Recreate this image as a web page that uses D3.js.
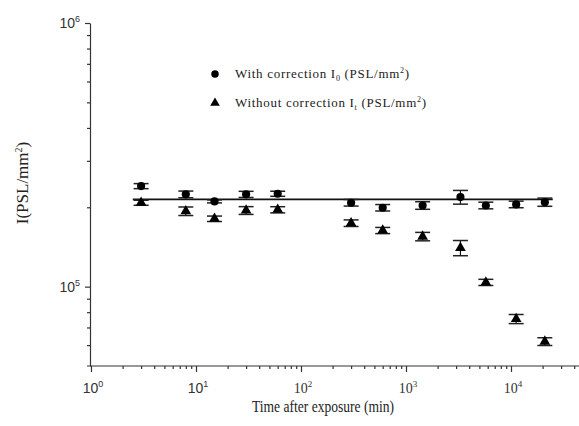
<!DOCTYPE html>
<html>
<head>
<meta charset="utf-8">
<script src="https://cdn.jsdelivr.net/npm/d3@7/dist/d3.min.js"></script>
<style>
  body { margin: 0; background: #fff; }
  svg { display: block; }
</style>
</head>
<body>
<svg id="chart" width="579" height="426"></svg>
<script>
// time after exposure (min)
const times = [3, 8, 15, 30, 60, 300, 600, 1440, 3300, 5760, 11200, 21000];
// with correction I0 (PSL/mm2)
const withCorr = [240600, 223900, 210500, 223900, 225100, 208100, 199200, 203200, 218600, 203200, 205100, 209200];
const withErr = [5300, 6500, 2700, 6000, 5000, 6000, 5600, 6700, 13100, 5900, 5900, 7500];
// without correction It (PSL/mm2)
const withoutCorr = [208100, 193300, 180900, 194500, 195700, 174100, 163300, 154900, 140300, 103800, 75400, 61900];
const withoutErr = [4600, 7200, 4300, 6600, 5300, 5000, 4400, 5700, 9300, 2800, 3000, 2100];
// fitted constant line
const fitValue = 214300;
const fitRange = [2.5, 25000];

const xMajor = [0, 1, 2, 3, 4];
const yMajor = [5, 6];

const svg = d3.select('#chart');

const x = d3.scaleLog().domain([1, 1e5]).range([91, 616]);
const y = d3.scaleLog().domain([5e4, 1e6]).range([366, 23]);

// minor tick values
const xMinor = [];
for (let e = 0; e < 5; e++) for (let m = 2; m <= 9; m++) xMinor.push(m * Math.pow(10, e));
const yMinor = [6e4, 7e4, 8e4, 9e4, 2e5, 3e5, 4e5, 5e5, 6e5, 7e5, 8e5, 9e5];

const axisColor = '#333';

// x axis
const gx = svg.append('g').attr('transform', 'translate(0,366)');
gx.call(d3.axisBottom(x).tickValues(xMajor.map(e => Math.pow(10, e))).tickFormat('').tickSize(6).tickSizeOuter(0));
gx.append('g').call(d3.axisBottom(x).tickValues(xMinor).tickFormat('').tickSize(3).tickSizeOuter(0))
  .select('.domain').remove();
gx.select('.domain').attr('d', 'M87,0H579');

// y axis
const gy = svg.append('g').attr('transform', 'translate(90,0)');
gy.call(d3.axisLeft(y).tickValues(yMajor.map(e => Math.pow(10, e))).tickFormat('').tickSize(5).tickSizeOuter(0));
gy.append('g').call(d3.axisLeft(y).tickValues(yMinor).tickFormat('').tickSize(3).tickSizeOuter(0))
  .select('.domain').remove();

svg.selectAll('.domain, .tick line').attr('stroke', axisColor).attr('stroke-width', 1.2);

// tick labels with superscripts
function powerLabel(g, e) {
  g.append('tspan').text('10');
  g.append('tspan').attr('font-size', 9).attr('dy', -6).text(e);
}
xMajor.forEach(e => {
  const serif = e >= 2;
  const t = svg.append('text')
    .attr('x', x(Math.pow(10, e)) + 2)
    .attr('y', 393)
    .attr('text-anchor', 'middle')
    .attr('font-family', serif ? '"Liberation Serif", serif' : '"Liberation Sans", Arial, sans-serif')
    .attr('font-size', 14)
    .attr('fill', '#333');
  powerLabel(t, e);
});
yMajor.forEach(e => {
  const t = svg.append('text')
    .attr('x', 80)
    .attr('y', y(Math.pow(10, e)) + 5)
    .attr('text-anchor', 'end')
    .attr('font-family', '"Liberation Sans", Arial, sans-serif')
    .attr('font-size', 14)
    .attr('fill', '#333');
  powerLabel(t, e);
});

// axis titles
svg.append('text')
  .attr('x', 252).attr('y', 412)
  .attr('font-family', '"Liberation Serif", "Times New Roman", serif')
  .attr('font-size', 17.5)
  .attr('textLength', 142).attr('lengthAdjust', 'spacingAndGlyphs')
  .attr('fill', '#222')
  .text('Time after exposure (min)');

const yl = svg.append('text')
  .attr('transform', 'translate(28,183) rotate(-90)')
  .attr('text-anchor', 'middle')
  .attr('font-family', '"Liberation Serif", "Times New Roman", serif')
  .attr('font-size', 17)
  .attr('fill', '#222');
yl.append('tspan').text('I(PSL/mm');
yl.append('tspan').attr('font-size', 10).attr('dy', -6).text('2');
yl.append('tspan').attr('dy', 6).text(')');

// fit line
svg.append('line')
  .attr('x1', x(fitRange[0])).attr('x2', x(fitRange[1]))
  .attr('y1', y(fitValue)).attr('y2', y(fitValue))
  .attr('stroke', '#111').attr('stroke-width', 1.6);

// error bars + markers
function drawSeries(vals, errs, shape) {
  const g = svg.append('g');
  times.forEach((t, i) => {
    const cx = x(t);
    const hi = y(vals[i] + errs[i]), lo = y(vals[i] - errs[i]);
    g.append('line').attr('x1', cx).attr('x2', cx).attr('y1', hi).attr('y2', lo)
      .attr('stroke', '#111').attr('stroke-width', 1.2);
    [hi, lo].forEach(yy => g.append('line')
      .attr('x1', cx - 7.5).attr('x2', cx + 7.5).attr('y1', yy).attr('y2', yy)
      .attr('stroke', '#222').attr('stroke-width', 1.5));
    g.append('path')
      .attr('transform', `translate(${cx},${y(vals[i])})`)
      .attr('d', d3.symbol().type(shape).size(shape === d3.symbolCircle ? 52 : 50)())
      .attr('fill', '#000');
  });
}
drawSeries(withCorr, withErr, d3.symbolCircle);
drawSeries(withoutCorr, withoutErr, d3.symbolTriangle);

// legend
const legend = svg.append('g')
  .attr('font-family', '"Liberation Serif", "Times New Roman", serif')
  .attr('font-size', 13)
  .attr('fill', '#222');
legend.append('path').attr('transform', 'translate(215,74)')
  .attr('d', d3.symbol().type(d3.symbolCircle).size(44)()).attr('fill', '#000');
legend.append('path').attr('transform', 'translate(215,103)')
  .attr('d', d3.symbol().type(d3.symbolTriangle).size(40)()).attr('fill', '#000');

function legendText(yy, label, sub) {
  const t = legend.append('text').attr('x', 235).attr('y', yy).attr('letter-spacing', 0.7);
  t.append('tspan').text(label + ' I');
  t.append('tspan').attr('font-size', 8).attr('dy', 3).text(sub);
  t.append('tspan').attr('dy', -3).text(' (PSL/mm');
  t.append('tspan').attr('font-size', 8).attr('dy', -5).text('2');
  t.append('tspan').attr('dy', 5).text(')');
}
legendText(78, 'With correction', '0');
legendText(107, 'Without correction', 't');
</script>
</body>
</html>
